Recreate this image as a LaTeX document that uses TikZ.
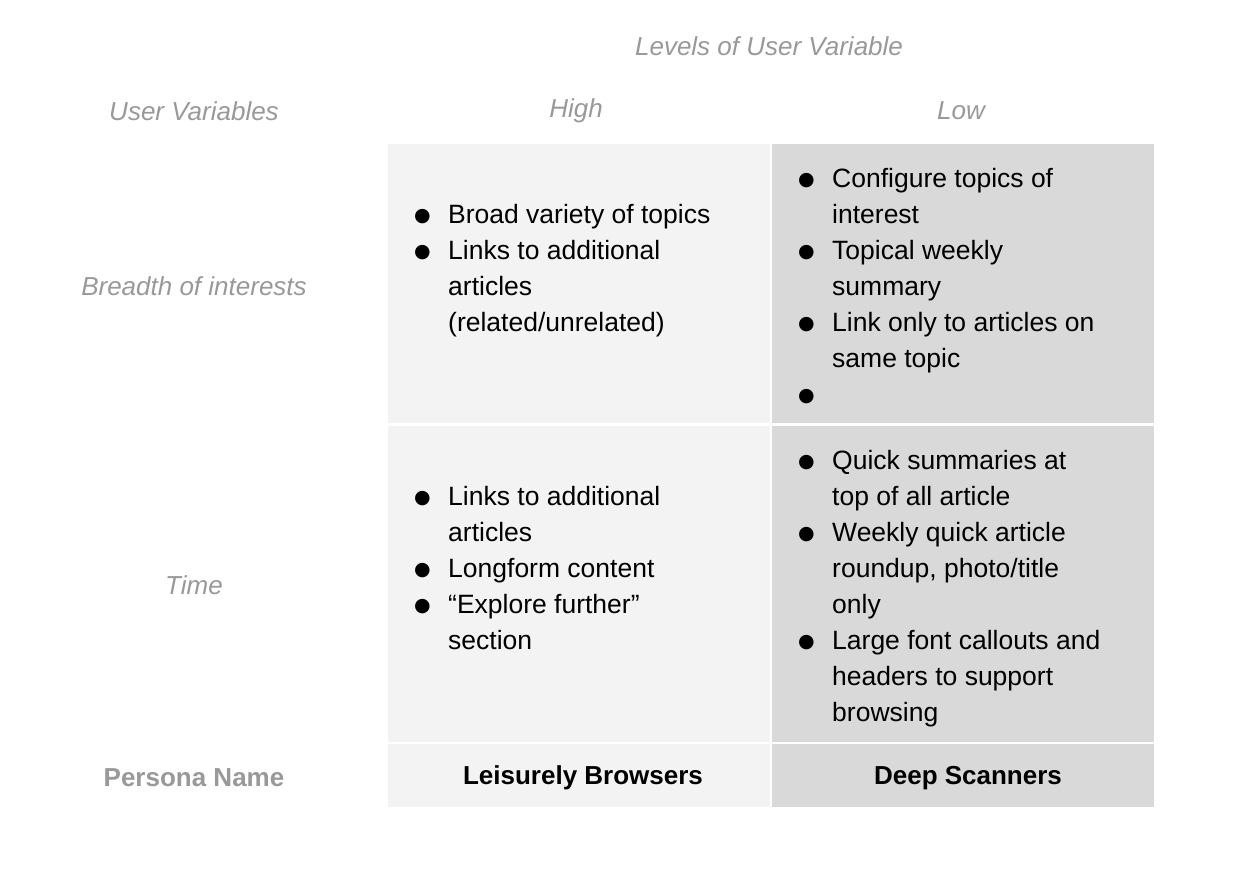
\documentclass[tikz,border=0pt]{standalone}
\usepackage{fontspec}
\setmainfont{Liberation Sans}
\newfontfamily\symf{DejaVu Sans}
\definecolor{hd}{HTML}{999999}
\definecolor{cl}{HTML}{F3F3F3}
\definecolor{cr}{HTML}{D9D9D9}
\begin{document}
\begin{tikzpicture}[x=1pt,y=-1pt,
  hdr/.style={text=hd,font=\fontsize{26}{30}\selectfont\itshape,anchor=center},
  ln/.style={anchor=base west,inner sep=0pt,font=\fontsize{26.5}{30}\selectfont},
  bl/.style={anchor=base west,inner sep=0pt,font=\symf\fontsize{19}{20}\selectfont}]
\useasboundingbox[fill=white] (0,0) rectangle (1250,888);
\fill[cl] (388,144) rectangle (770,423);
\fill[cr] (772,144) rectangle (1154,423);
\fill[cl] (388,426) rectangle (770,742);
\fill[cr] (772,426) rectangle (1154,742);
\fill[cl] (388,744) rectangle (770,807);
\fill[cr] (772,744) rectangle (1154,807);
\node[hdr] (lv) at (769,46) {Levels of User Variable};
\node[hdr] (uv) at (194,111) {User Variables};
\node[hdr] (hi) at (576,111) {High};
\node[hdr] (lo) at (961,111) {Low};
\node[hdr] (br) at (194,286) {Breadth of interests};
\node[hdr] (tm) at (194,585) {Time};
\node[hdr,font=\fontsize{26}{30}\selectfont\bfseries] (pn) at (194,778) {Persona Name};
\node[font=\fontsize{26}{30}\selectfont\bfseries] (lb) at (583,778) {Leisurely Browsers};
\node[font=\fontsize{26}{30}\selectfont\bfseries] (ds) at (968,778) {Deep Scanners};
% lines: x of bullet, y center, bullet?, text
\def\L#1#2#3#4{\node[ln] at (#1+26,#2+9.5) {#4};
  \ifnum#3=1 \node[bl] at (#1-8,#2+7.5) {●};\fi}
\L{422}{214}{1}{Broad variety of topics}
\L{422}{250}{1}{Links to additional}
\L{422}{286}{0}{articles}
\L{422}{322}{0}{(related/unrelated)}
\L{806}{178}{1}{Configure topics of}
\L{806}{214}{0}{interest}
\L{806}{250}{1}{Topical weekly}
\L{806}{286}{0}{summary}
\L{806}{322}{1}{Link only to articles on}
\L{806}{358}{0}{same topic}
\L{806}{394}{1}{}
\L{422}{496}{1}{Links to additional}
\L{422}{532}{0}{articles}
\L{422}{568}{1}{Longform content}
\L{422}{604}{1}{“Explore further”}
\L{422}{640}{0}{section}
\L{806}{460}{1}{Quick summaries at}
\L{806}{496}{0}{top of all article}
\L{806}{532}{1}{Weekly quick article}
\L{806}{568}{0}{roundup, photo/title}
\L{806}{604}{0}{only}
\L{806}{640}{1}{Large font callouts and}
\L{806}{676}{0}{headers to support}
\L{806}{712}{0}{browsing}
\end{tikzpicture}
\end{document}
